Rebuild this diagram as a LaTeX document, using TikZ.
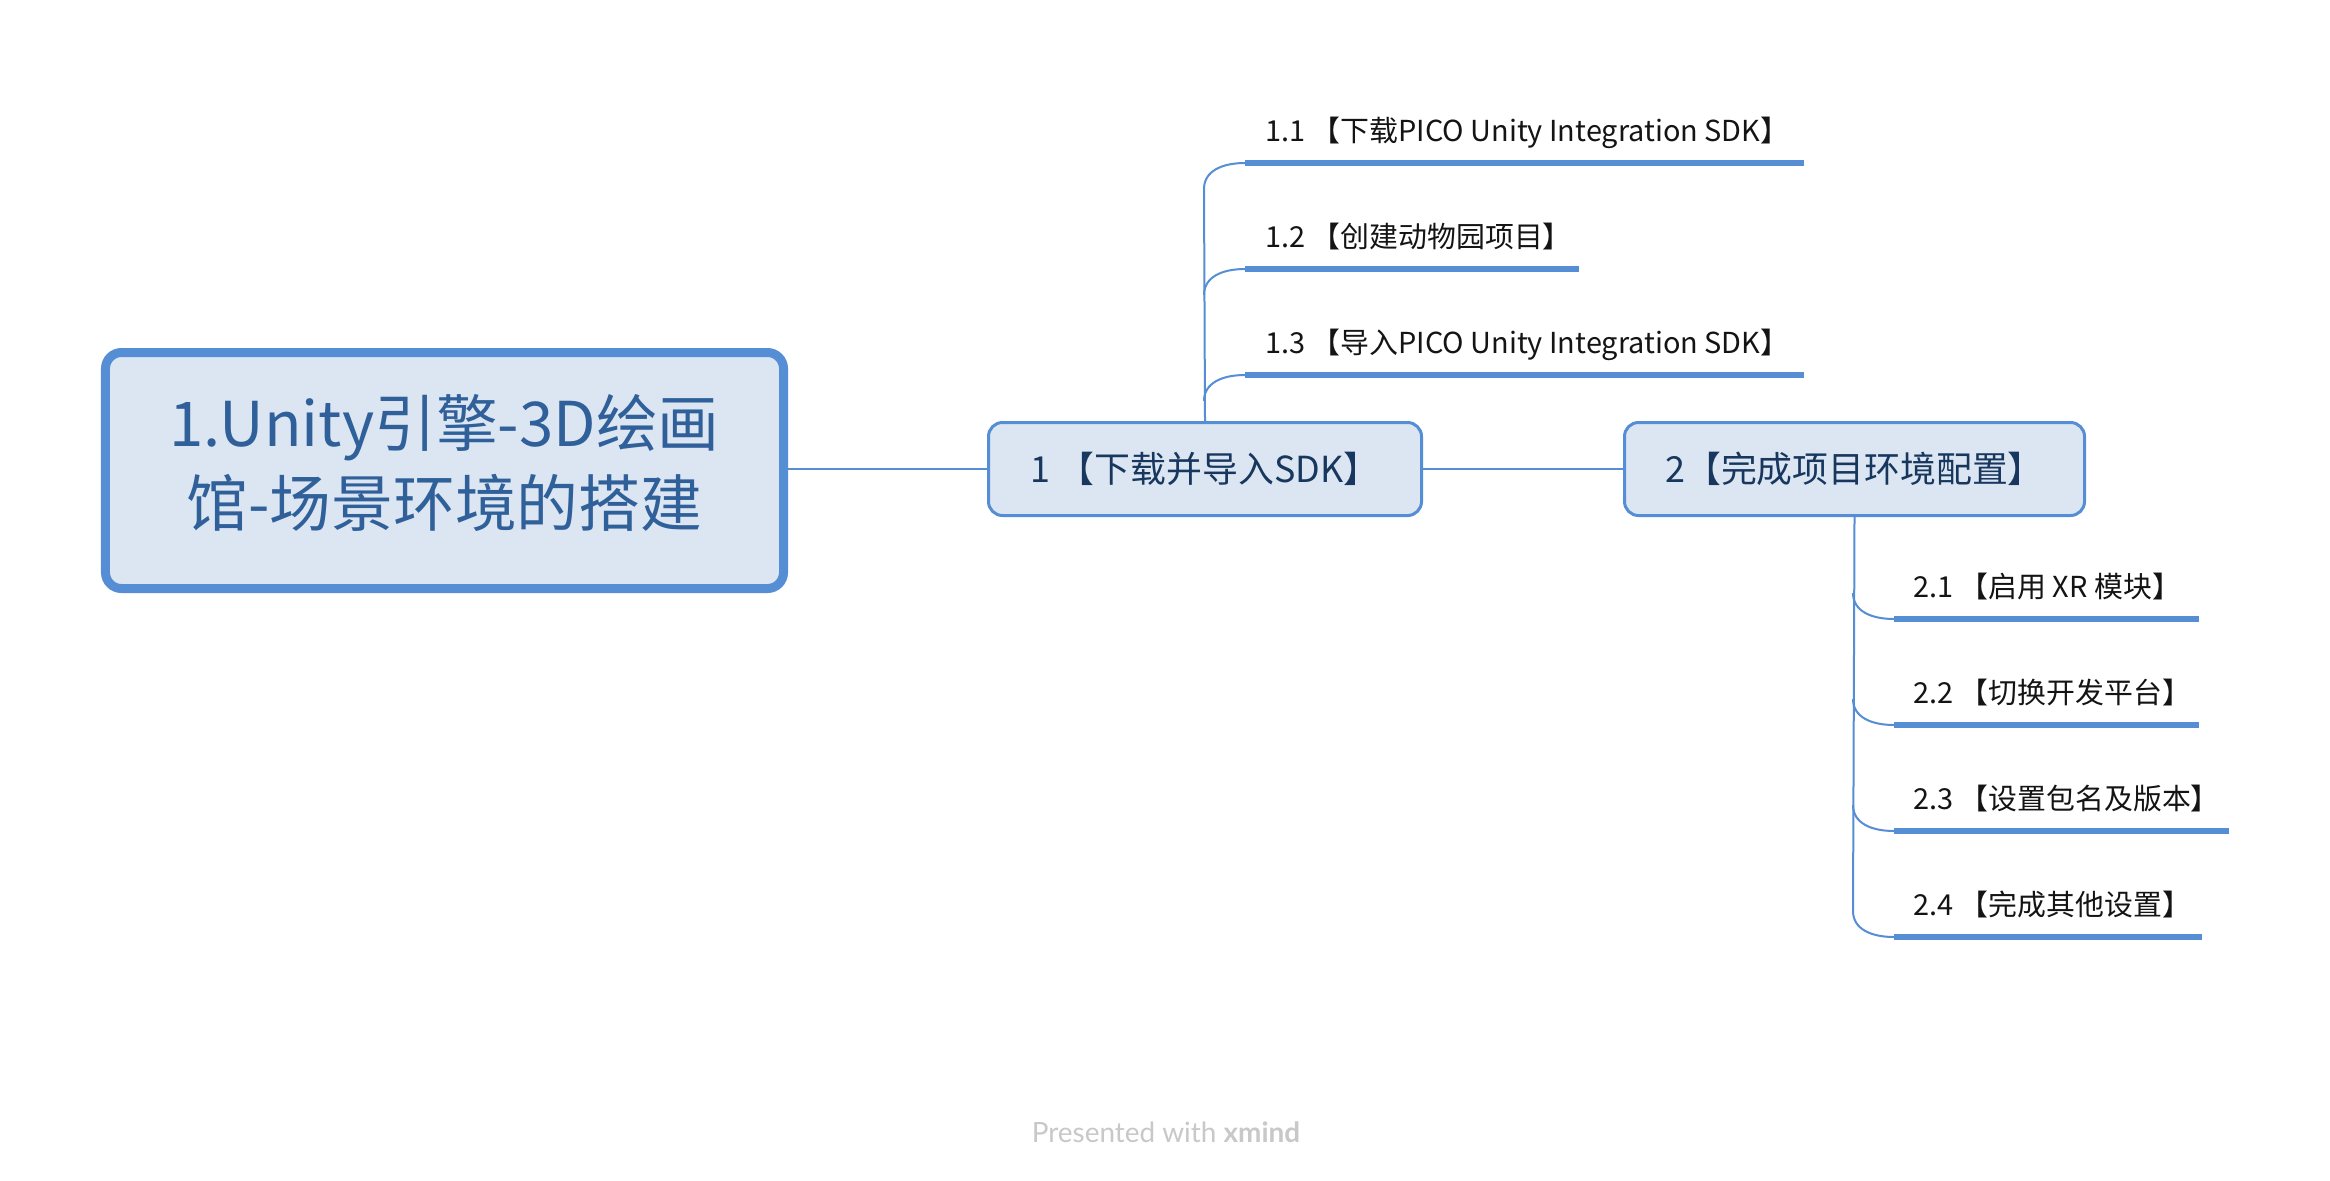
\documentclass[tikz,border=0pt]{standalone}
\usepackage{fontspec}
\setmainfont{Noto Sans CJK SC}
\newfontfamily\wmfont{Lato}
\definecolor{bord}{HTML}{558ED5}
\definecolor{fillc}{HTML}{DCE6F2}
\definecolor{ctext}{HTML}{30609A}
\definecolor{ntext}{HTML}{17375E}
\definecolor{stext}{HTML}{141414}
\definecolor{wm}{HTML}{C8C8C8}
\begin{document}
\begin{tikzpicture}[x=1bp,y=-1bp,
  central/.style={draw=bord, line width=9bp, fill=fillc, rounded corners=16bp,
    minimum width=678bp, minimum height=236bp, text=ctext,
    font=\fontsize{62}{80}\selectfont, inner sep=0pt},
  topic/.style={draw=bord, line width=3bp, fill=fillc, rounded corners=14bp,
    minimum height=93bp, text=ntext, font=\fontsize{36}{40}\selectfont, inner sep=0pt},
  sub/.style={anchor=base west, text=stext, font=\fontsize{29}{34}\selectfont, inner sep=0pt},
  conn/.style={draw=bord, line width=2bp},
  uline/.style={draw=bord, line width=6bp},
  wmark/.style={text=wm, font=\wmfont\fontsize{28}{32}\selectfont, inner sep=0pt}
]
\useasboundingbox[fill=white] (0,0) rectangle (2330,1180);

% main nodes
\node[central] (c) at (444.5,470.5) {\raisebox{5bp}{\begin{tabular}{@{}c@{}}1.Unity引擎-3D绘画\\馆-场景环境的搭建\end{tabular}}};
\node[topic, minimum width=433bp] (n1) at (1205,469) {1 【下载并导入SDK】};
\node[topic, minimum width=460bp] (n2) at (1854.5,469) {2【完成项目环境配置】};

\draw[conn] (c.east |- n1.west) -- (n1.west);
\draw[conn] (n1.east) -- (n2.west);

% branch 1
\coordinate (u11a) at (1245,163); \coordinate (u11b) at (1804,163);
\coordinate (u12a) at (1245,269); \coordinate (u12b) at (1579,269);
\coordinate (u13a) at (1245,375); \coordinate (u13b) at (1804,375);
\coordinate (b11) at (1204,189);
\coordinate (b12) at (1204,295);
\coordinate (b13) at (1204,401);

\node[sub] (s11) at (1265,141) {1.1 【下载PICO Unity Integration SDK】};
\node[sub] (s12) at (1265,247) {1.2 【创建动物园项目】};
\node[sub] (s13) at (1265,353) {1.3 【导入PICO Unity Integration SDK】};

\draw[conn] (n1.north) -- (b11) .. controls (1204,171) and (1222,163) .. (u11a);
\draw[conn] (b12) .. controls (1204,277) and (1222,269) .. (u12a);
\draw[conn] (b13) .. controls (1204,383) and (1222,375) .. (u13a);
\draw[uline] (u11a) -- (u11b);
\draw[uline] (u12a) -- (u12b);
\draw[uline] (u13a) -- (u13b);

% branch 2
\coordinate (u21a) at (1894,619); \coordinate (u21b) at (2199,619);
\coordinate (u22a) at (1894,725); \coordinate (u22b) at (2199,725);
\coordinate (u23a) at (1894,831); \coordinate (u23b) at (2229,831);
\coordinate (u24a) at (1894,937); \coordinate (u24b) at (2202,937);
\coordinate (b21) at (1853,593);
\coordinate (b22) at (1853,699);
\coordinate (b23) at (1853,805);
\coordinate (b24) at (1853,911);

\node[sub] (s21) at (1913,597) {2.1 【启用 XR 模块】};
\node[sub] (s22) at (1913,703) {2.2 【切换开发平台】};
\node[sub] (s23) at (1913,809) {2.3 【设置包名及版本】};
\node[sub] (s24) at (1913,915) {2.4 【完成其他设置】};

\draw[conn] (n2.south) -- (b24) .. controls (1853,929) and (1871,937) .. (u24a);
\draw[conn] (b21) .. controls (1853,611) and (1871,619) .. (u21a);
\draw[conn] (b22) .. controls (1853,717) and (1871,725) .. (u22a);
\draw[conn] (b23) .. controls (1853,823) and (1871,831) .. (u23a);
\draw[uline] (u21a) -- (u21b);
\draw[uline] (u22a) -- (u22b);
\draw[uline] (u23a) -- (u23b);
\draw[uline] (u24a) -- (u24b);

% watermark
\node[wmark] (wm) at (1166,1132) {Presented with \textbf{xmind}};
\end{tikzpicture}
\end{document}
